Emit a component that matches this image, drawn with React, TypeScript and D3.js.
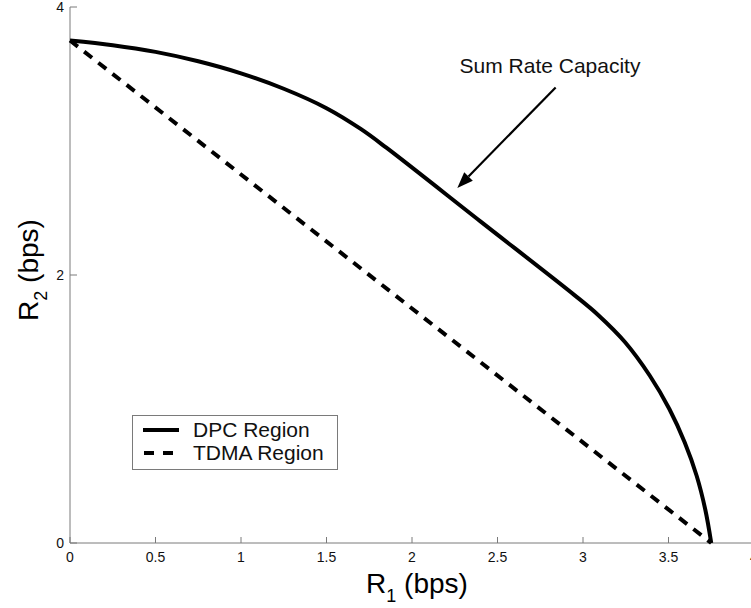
import React from "react";
import * as d3 from "d3";

// Rate region boundary points (bps)
const dpcR1 = [0, 0.25, 0.5, 0.75, 1.0, 1.25, 1.5, 1.7, 1.85, 2.4, 2.95, 3.09, 3.245, 3.39, 3.505, 3.595, 3.665, 3.715, 3.75];
const dpcR2 = [3.75, 3.715, 3.665, 3.595, 3.505, 3.39, 3.245, 3.09, 2.95, 2.4, 1.85, 1.7, 1.5, 1.25, 1.0, 0.75, 0.5, 0.25, 0];
const tdmaR1 = [0, 3.75];
const tdmaR2 = [3.75, 0];

const xTicks = [0, 0.5, 1, 1.5, 2, 2.5, 3, 3.5, 4];
const xTickLabels = ["0", "0.5", "1", "1.5", "2", "2.5", "3", "3.5", "4"];
const yTicks = [0, 2, 4];
const yTickLabels = ["0", "2", "4"];

const legendLabels = ["DPC Region", "TDMA Region"];
const annotation = "Sum Rate Capacity";
// annotation arrow: tail and tip in data units
const arrowTail = [2.84, 3.4];
const arrowTip = [2.265, 2.65];

const W = 751;
const H = 608;
const FONT = "'Liberation Sans', Arial, Helvetica, sans-serif";

export default function App() {
  const x = d3.scaleLinear().domain([0, 4]).range([70, 754]);
  const y = d3.scaleLinear().domain([0, 4]).range([543, 7]);

  const line = d3
    .line<[number, number]>()
    .x((d) => x(d[0]))
    .y((d) => y(d[1]))
    .curve(d3.curveCatmullRom.alpha(0.5));
  const straight = d3
    .line<[number, number]>()
    .x((d) => x(d[0]))
    .y((d) => y(d[1]));

  const dpc = dpcR1.map((v, i) => [v, dpcR2[i]] as [number, number]);
  const tdma = tdmaR1.map((v, i) => [v, tdmaR2[i]] as [number, number]);

  const axisColor = "#7a7a7a";

  // arrow geometry
  const tx = x(arrowTail[0]), ty = y(arrowTail[1]);
  const hx = x(arrowTip[0]), hy = y(arrowTip[1]);
  const ang = Math.atan2(hy - ty, hx - tx);
  const headLen = 16, headHalf = 6;
  const bx = hx - headLen * Math.cos(ang), by = hy - headLen * Math.sin(ang);
  const px = -Math.sin(ang) * headHalf, py = Math.cos(ang) * headHalf;

  return (
    <svg
      width={W}
      height={H}
      style={{ position: "absolute", left: 0, top: 0, background: "#fff" }}
      fontFamily={FONT}
    >
      <rect width={W} height={H} fill="#fff" />

      {/* axes */}
      <line x1={x(0)} x2={W} y1={y(0)} y2={y(0)} stroke={axisColor} strokeWidth={1} />
      <line x1={x(0)} x2={x(0)} y1={y(0)} y2={y(4)} stroke={axisColor} strokeWidth={1} />
      {xTicks.map((t, i) => (
        <g key={"xt" + i}>
          <line x1={x(t)} x2={x(t)} y1={y(0)} y2={y(0) - 6} stroke={axisColor} />
          <text x={x(t)} y={562} fontSize={14} textAnchor="middle" fill="#111">
            {xTickLabels[i]}
          </text>
        </g>
      ))}
      {yTicks.map((t, i) => (
        <g key={"yt" + i}>
          <line x1={x(0)} x2={x(0) + 7} y1={y(t)} y2={y(t)} stroke={axisColor} />
          <text x={64} y={y(t) + 5} fontSize={14} textAnchor="end" fill="#111">
            {yTickLabels[i]}
          </text>
        </g>
      ))}

      {/* axis labels */}
      <text x={417} y={593} fontSize={28} textAnchor="middle" fill="#000">
        R<tspan fontSize={18} dy={9}>1</tspan>
        <tspan dy={-9}> (bps)</tspan>
      </text>
      <text
        transform={`translate(38, 270) rotate(-90)`}
        fontSize={28}
        textAnchor="middle"
        fill="#000"
      >
        R<tspan fontSize={18} dy={9}>2</tspan>
        <tspan dy={-9}> (bps)</tspan>
      </text>

      {/* curves */}
      <path d={straight(tdma) || ""} fill="none" stroke="#000" strokeWidth={4} strokeDasharray="10,8" />
      <path d={line(dpc) || ""} fill="none" stroke="#000" strokeWidth={4} strokeLinejoin="round" />

      {/* annotation */}
      <text x={550} y={73} fontSize={21} textAnchor="middle" fill="#111">
        {annotation}
      </text>
      <line x1={tx} y1={ty} x2={bx} y2={by} stroke="#000" strokeWidth={2.2} />
      <polygon
        points={`${hx},${hy} ${bx + px},${by + py} ${bx - px},${by - py}`}
        fill="#000"
      />

      {/* legend */}
      <rect x={132.5} y={415.5} width={205} height={54} fill="#fff" stroke={axisColor} strokeWidth={1} />
      <line x1={143} x2={179} y1={430} y2={430} stroke="#000" strokeWidth={4} />
      <line x1={144} x2={179} y1={453} y2={453} stroke="#000" strokeWidth={4} strokeDasharray="10,9" />
      <text x={193} y={437} fontSize={21} fill="#111">{legendLabels[0]}</text>
      <text x={193} y={460} fontSize={21} fill="#111">{legendLabels[1]}</text>
    </svg>
  );
}
